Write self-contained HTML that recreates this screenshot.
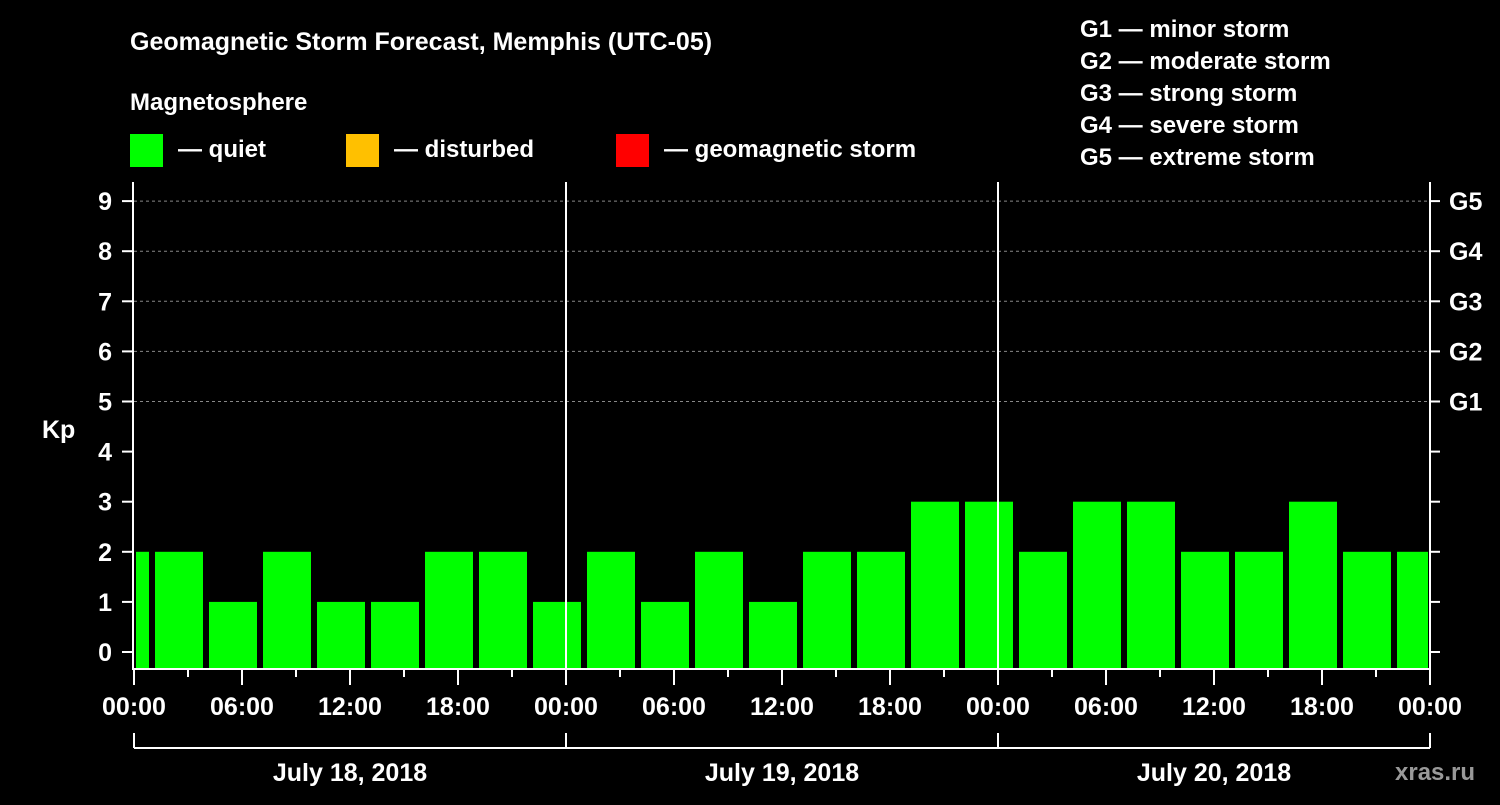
<!DOCTYPE html>
<html><head><meta charset="utf-8"><style>
body{margin:0;background:#000;width:1500px;height:800px;overflow:hidden}
svg text{font-family:"Liberation Sans",Arial,sans-serif;font-weight:bold;fill:#fff}
</style></head><body>
<svg id="chart" width="1500" height="800" xmlns="http://www.w3.org/2000/svg">
<rect width="1500" height="800" fill="#000"/>
<text x="130" y="50" font-size="25">Geomagnetic Storm Forecast, Memphis (UTC-05)</text>
<text x="130" y="110" font-size="24">Magnetosphere</text>
<g>
<rect x="130" y="134" width="33" height="33" fill="#00ff00"/>
<text x="178" y="157" font-size="24">— quiet</text>
<rect x="346" y="134" width="33" height="33" fill="#ffc000"/>
<text x="394" y="157" font-size="24">— disturbed</text>
<rect x="616" y="134" width="33" height="33" fill="#ff0000"/>
<text x="664" y="157" font-size="24">— geomagnetic storm</text>
</g>
<g font-size="24">
<text x="1080" y="37">G1 — minor storm</text>
<text x="1080" y="69">G2 — moderate storm</text>
<text x="1080" y="101">G3 — strong storm</text>
<text x="1080" y="133">G4 — severe storm</text>
<text x="1080" y="165">G5 — extreme storm</text>
</g>
<text x="42" y="438" font-size="25">Kp</text>
<text x="1395" y="780" font-size="24" fill="#888" style="fill:#999">xras.ru</text>
<g id="grid"></g><g id="bars"></g><g id="axes"></g>
</svg>
<script>
const kpValues = [2,2,1,2,1,1,2,2,1,2,1,2,1,2,2,3,3,2,3,3,2,2,3,2,2];
const binStartHours = [-2,1,4,7,10,13,16,19,22,25,28,31,34,37,40,43,46,49,52,55,58,61,64,67,70];
const dayLabels = ["July 18, 2018","July 19, 2018","July 20, 2018"];
const timeLabels = ["00:00","06:00","12:00","18:00"];
const gLabels = ["G1","G2","G3","G4","G5"];
const NS="http://www.w3.org/2000/svg";
const X0=134,X1=1430,H=72,YB=668;
const x=h=>X0+(X1-X0)*h/H;
const y=v=>652-v*50.1;
function mk(tag,attrs,parent,text){const e=document.createElementNS(NS,tag);for(const k in attrs)e.setAttribute(k,attrs[k]);if(text!=null)e.textContent=text;parent.appendChild(e);return e;}
const grid=document.getElementById('grid'),bars=document.getElementById('bars'),axes=document.getElementById('axes');
for(let v=5;v<=9;v++){const l=mk('line',{x1:X0,x2:X1,y1:y(v),y2:y(v),stroke:'#888','stroke-dasharray':'3,3','stroke-width':1},grid);

}
kpValues.forEach((v,i)=>{const s=binStartHours[i],e=s+3;
let l=Math.max(x(s)+3,X0+2),r=Math.min(x(e)-3,X1-2);
const c=v>=5?'#ff0000':(v>=4?'#ffc000':'#00ff00');
const b=mk('rect',{x:l,y:y(v),width:r-l,height:YB-y(v),fill:c},bars);

});
// day separators
[1,2].forEach(d=>{const l=mk('line',{x1:x(d*24),x2:x(d*24),y1:182,y2:YB,stroke:'#fff','stroke-width':2},axes);

});
mk('line',{x1:X0-1,x2:X0-1,y1:182,y2:YB+1,stroke:'#fff','stroke-width':2},axes);
mk('line',{x1:X1,x2:X1,y1:182,y2:YB+1,stroke:'#fff','stroke-width':2},axes);
mk('line',{x1:X0-2,x2:X1+1,y1:YB+1,y2:YB+1,stroke:'#fff','stroke-width':2},axes);
for(let v=0;v<=9;v++){
mk('line',{x1:122,x2:X0,y1:y(v),y2:y(v),stroke:'#fff','stroke-width':2},axes);
mk('line',{x1:X1,x2:X1+10,y1:y(v),y2:y(v),stroke:'#fff','stroke-width':2},axes);
const t=mk('text',{x:112,y:y(v)+9,'font-size':25,'text-anchor':'end'},axes,String(v));

}
gLabels.forEach((g,i)=>{const t=mk('text',{x:1449,y:y(5+i)+9,'font-size':25},axes,g);

});
for(let h=0;h<=H;h+=3){const major=h%6===0;
mk('line',{x1:x(h),x2:x(h),y1:YB,y2:YB+(major?17:9),stroke:'#fff','stroke-width':2},axes);
if(major){const t=mk('text',{x:x(h),y:715,'font-size':25,'text-anchor':'middle'},axes,timeLabels[(h/6)%4]);

}}
mk('line',{x1:X0,x2:X1,y1:748,y2:748,stroke:'#fff','stroke-width':2},axes);
for(let d=0;d<=3;d++)mk('line',{x1:x(d*24),x2:x(d*24),y1:733,y2:748,stroke:'#fff','stroke-width':2},axes);
dayLabels.forEach((lab,d)=>{const t=mk('text',{x:x(d*24+12),y:781,'font-size':25,'text-anchor':'middle'},axes,lab);

});
</script>
</body></html>
